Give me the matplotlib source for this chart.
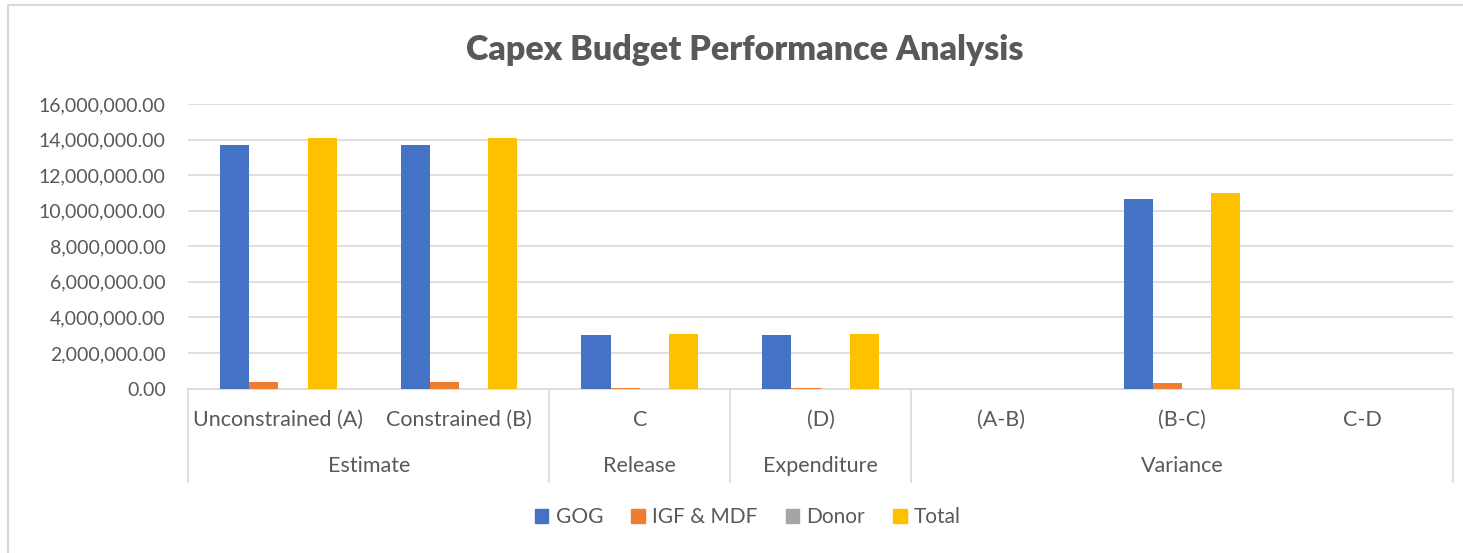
import matplotlib
matplotlib.use("Agg")
import matplotlib.pyplot as plt
import matplotlib.patches as mpatches
from matplotlib.ticker import FuncFormatter, MultipleLocator
import numpy as np

# ---- data ----
categories = ["Unconstrained (A)", "Constrained (B)", "C", "(D)", "(A-B)", "(B-C)", "C-D"]
group_names = ["Estimate", "Release", "Expenditure", "Variance"]
group_sizes = [2, 1, 1, 3]
series_names = ["GOG", "IGF & MDF", "Donor", "Total"]
gog = [13670000, 13670000, 3000000, 3000000, 0, 10670000, 0]
igf = [360000, 360000, 30000, 30000, 0, 310000, 0]
donor = [0, 0, 0, 0, 0, 0, 0]
total = [14100000, 14100000, 3070000, 3070000, 0, 11000000, 0]
colors = ["#4472C4", "#ED7D31", "#A5A5A5", "#FFC000"]

W, H = 1463, 553
fig = plt.figure(figsize=(W / 100, H / 100), dpi=100)
plt.rcParams['font.family'] = ['Lato', 'DejaVu Sans']
txt = "#595959"
grid = "#D9D9D9"

# chart border
fig.patches.append(mpatches.Rectangle((8 / W, -0.1), 1.2, 1 - 5 / H + 0.1, transform=fig.transFigure,
                                      fill=False, edgecolor=grid, lw=1.5))

left, right = 188 / W, 1453 / W
bottom, top = 1 - 388.5 / H, 1 - 104 / H
ax = fig.add_axes([left, bottom, right - left, top - bottom])

x = np.arange(len(categories))
bw = 1 / (4 + 2.19)
for i, (vals, name, c) in enumerate(zip([gog, igf, donor, total], series_names, colors)):
    ax.bar(x + (i - 1.5) * bw, vals, width=bw, color=c, label=name, zorder=3)

ax.set_xlim(-0.5, len(categories) - 0.5)
ax.set_ylim(0, 16000000)
ax.yaxis.set_major_locator(MultipleLocator(2000000))
ax.yaxis.set_major_formatter(FuncFormatter(lambda v, p: f"{v:,.2f}"))
ax.grid(axis='y', color=grid, lw=1.2, zorder=0)
for s in ["left", "right", "top"]:
    ax.spines[s].set_visible(False)
ax.spines["bottom"].set_color(grid)
ax.spines["bottom"].set_linewidth(1.2)
ax.tick_params(axis='y', length=0, pad=16, labelsize=14, labelcolor=txt)
ax.set_xticks([])

# multi-level category axis
trans = ax.get_xaxis_transform()
for i, cat in enumerate(categories):
    ax.text(i, -0.111, cat, transform=trans, ha='center', va='center', fontsize=15.5, color=txt)
bounds = np.concatenate([[0], np.cumsum(group_sizes)]) - 0.5
for b in bounds:
    ax.plot([b, b], [0, -0.329], transform=trans, color=grid, lw=1.2, clip_on=False)
for gname, a, b in zip(group_names, bounds[:-1], bounds[1:]):
    ax.text((a + b) / 2, -0.272, gname, transform=trans, ha='center', va='center', fontsize=15.5, color=txt)

fig.text(0.509, 1 - 50 / H, "Capex Budget Performance Analysis", ha='center', va='center',
         fontsize=24.5, fontweight='heavy', color=txt)

handles = [mpatches.Patch(color=c, label=n) for c, n in zip(colors, series_names)]
fig.legend(handles=handles, loc='center', bbox_to_anchor=(748 / W, 1 - 517 / H), ncol=4,
           frameon=False, fontsize=15, labelcolor=txt, handlelength=0.65, handleheight=0.65,
           handletextpad=0.35, columnspacing=1.35)

fig.savefig("out.png", dpi=100)
